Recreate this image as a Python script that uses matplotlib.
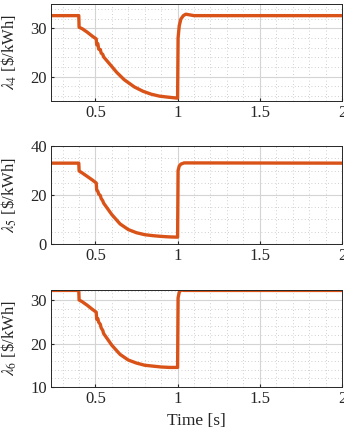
import numpy as np
import matplotlib.pyplot as plt
from matplotlib.ticker import MultipleLocator

plt.rcParams['font.family'] = 'Liberation Serif'
plt.rcParams['mathtext.fontset'] = 'stix'
plt.rcParams['font.size'] = 12

color = '#D95319'

# Precios marginales
t4 = [0.23, 0.399, 0.401, 0.42, 0.45, 0.48, 0.505, 0.508, 0.515, 0.52, 0.53, 0.535, 0.545, 0.55,
      0.59, 0.63, 0.675, 0.737, 0.79, 0.84, 0.89, 0.94, 0.995, 1.0, 1.003, 1.01, 1.02, 1.035, 1.05, 1.1, 2.0]
l4 = [32.6, 32.6, 30.2, 29.9, 29.2, 28.4, 27.8, 26.6, 26.8, 25.7, 25.6, 24.9, 24.6, 24.1,
      22.5, 20.9, 19.4, 17.9, 17.0, 16.4, 16.0, 15.8, 15.6, 15.6, 28.0, 30.5, 31.9, 32.6, 32.9, 32.6, 32.6]

t5 = [0.23, 0.399, 0.401, 0.42, 0.45, 0.48, 0.505, 0.508, 0.515, 0.52, 0.53, 0.535, 0.545, 0.55,
      0.6, 0.65, 0.7, 0.75, 0.8, 0.85, 0.9, 0.95, 0.995, 1.0, 1.003, 1.01, 1.02, 1.04, 2.0]
l5 = [33.0, 33.0, 29.8, 29.0, 27.6, 26.2, 24.9, 22.0, 21.5, 20.4, 19.8, 18.6, 17.6, 16.7,
      12.0, 8.2, 5.9, 4.6, 3.8, 3.4, 3.1, 2.9, 2.8, 2.8, 30.0, 31.8, 32.6, 33.1, 33.0]

t6 = [0.23, 0.399, 0.401, 0.42, 0.45, 0.48, 0.505, 0.508, 0.515, 0.52, 0.53, 0.535, 0.545, 0.55,
      0.6, 0.65, 0.7, 0.75, 0.8, 0.85, 0.9, 0.95, 0.995, 1.0, 1.003, 1.01, 1.02, 1.04, 2.0]
l6 = [32.2, 32.2, 30.0, 29.6, 28.8, 27.9, 27.2, 25.6, 25.7, 24.9, 24.4, 23.6, 23.0, 22.3,
      19.6, 17.5, 16.2, 15.5, 15.0, 14.8, 14.6, 14.5, 14.5, 14.5, 30.5, 31.8, 32.3, 32.2, 32.2]

series = [(t4, l4, r'$\lambda_4$ [\$/kWh]', (15, 35), 10, 2),
          (t5, l5, r'$\lambda_5$ [\$/kWh]', (0, 40), 20, 5),
          (t6, l6, r'$\lambda_6$ [\$/kWh]', (10, 32.3), 10, 2)]

fig = plt.figure(figsize=(3.44, 4.32), dpi=100)
bounds = [(4, 101), (146, 244), (290, 387)]
for (t, l, lab, yl, ymaj, ymin), (top, bot) in zip(series, bounds):
    ax = fig.add_axes([51/344, 1 - bot/432, 291/344, (bot - top)/432])
    ax.plot(t, l, color=color, lw=2.4)
    ax.set_xlim(0.23, 2)
    ax.set_ylim(*yl)
    ax.set_xticks([0.5, 1, 1.5, 2])
    ax.set_xticklabels(['0.5', '1', '1.5', '2'])
    ax.xaxis.set_minor_locator(MultipleLocator(0.1))
    ax.yaxis.set_major_locator(MultipleLocator(ymaj))
    ax.yaxis.set_minor_locator(MultipleLocator(ymin))
    ax.grid(which='major', color='#d4d4d4', lw=0.8)
    ax.grid(which='minor', color='#c0c0c0', lw=0.6, ls=(0, (1, 3)))
    ax.tick_params(which='both', direction='in', length=0, labelsize=12, colors='#262626', pad=3)
    ax.tick_params(which='major', length=2.5)
    for s in ax.spines.values():
        s.set_color('#262626')
        s.set_linewidth(0.7)
    ax.set_ylabel(lab, fontsize=12, color='#262626')
    ax.yaxis.set_label_coords(-0.11, 0.5)
    last = ax

last.set_xlabel('Time [s]', fontsize=12.5, color='#262626', labelpad=4)

plt.savefig('out.png', dpi=100)
